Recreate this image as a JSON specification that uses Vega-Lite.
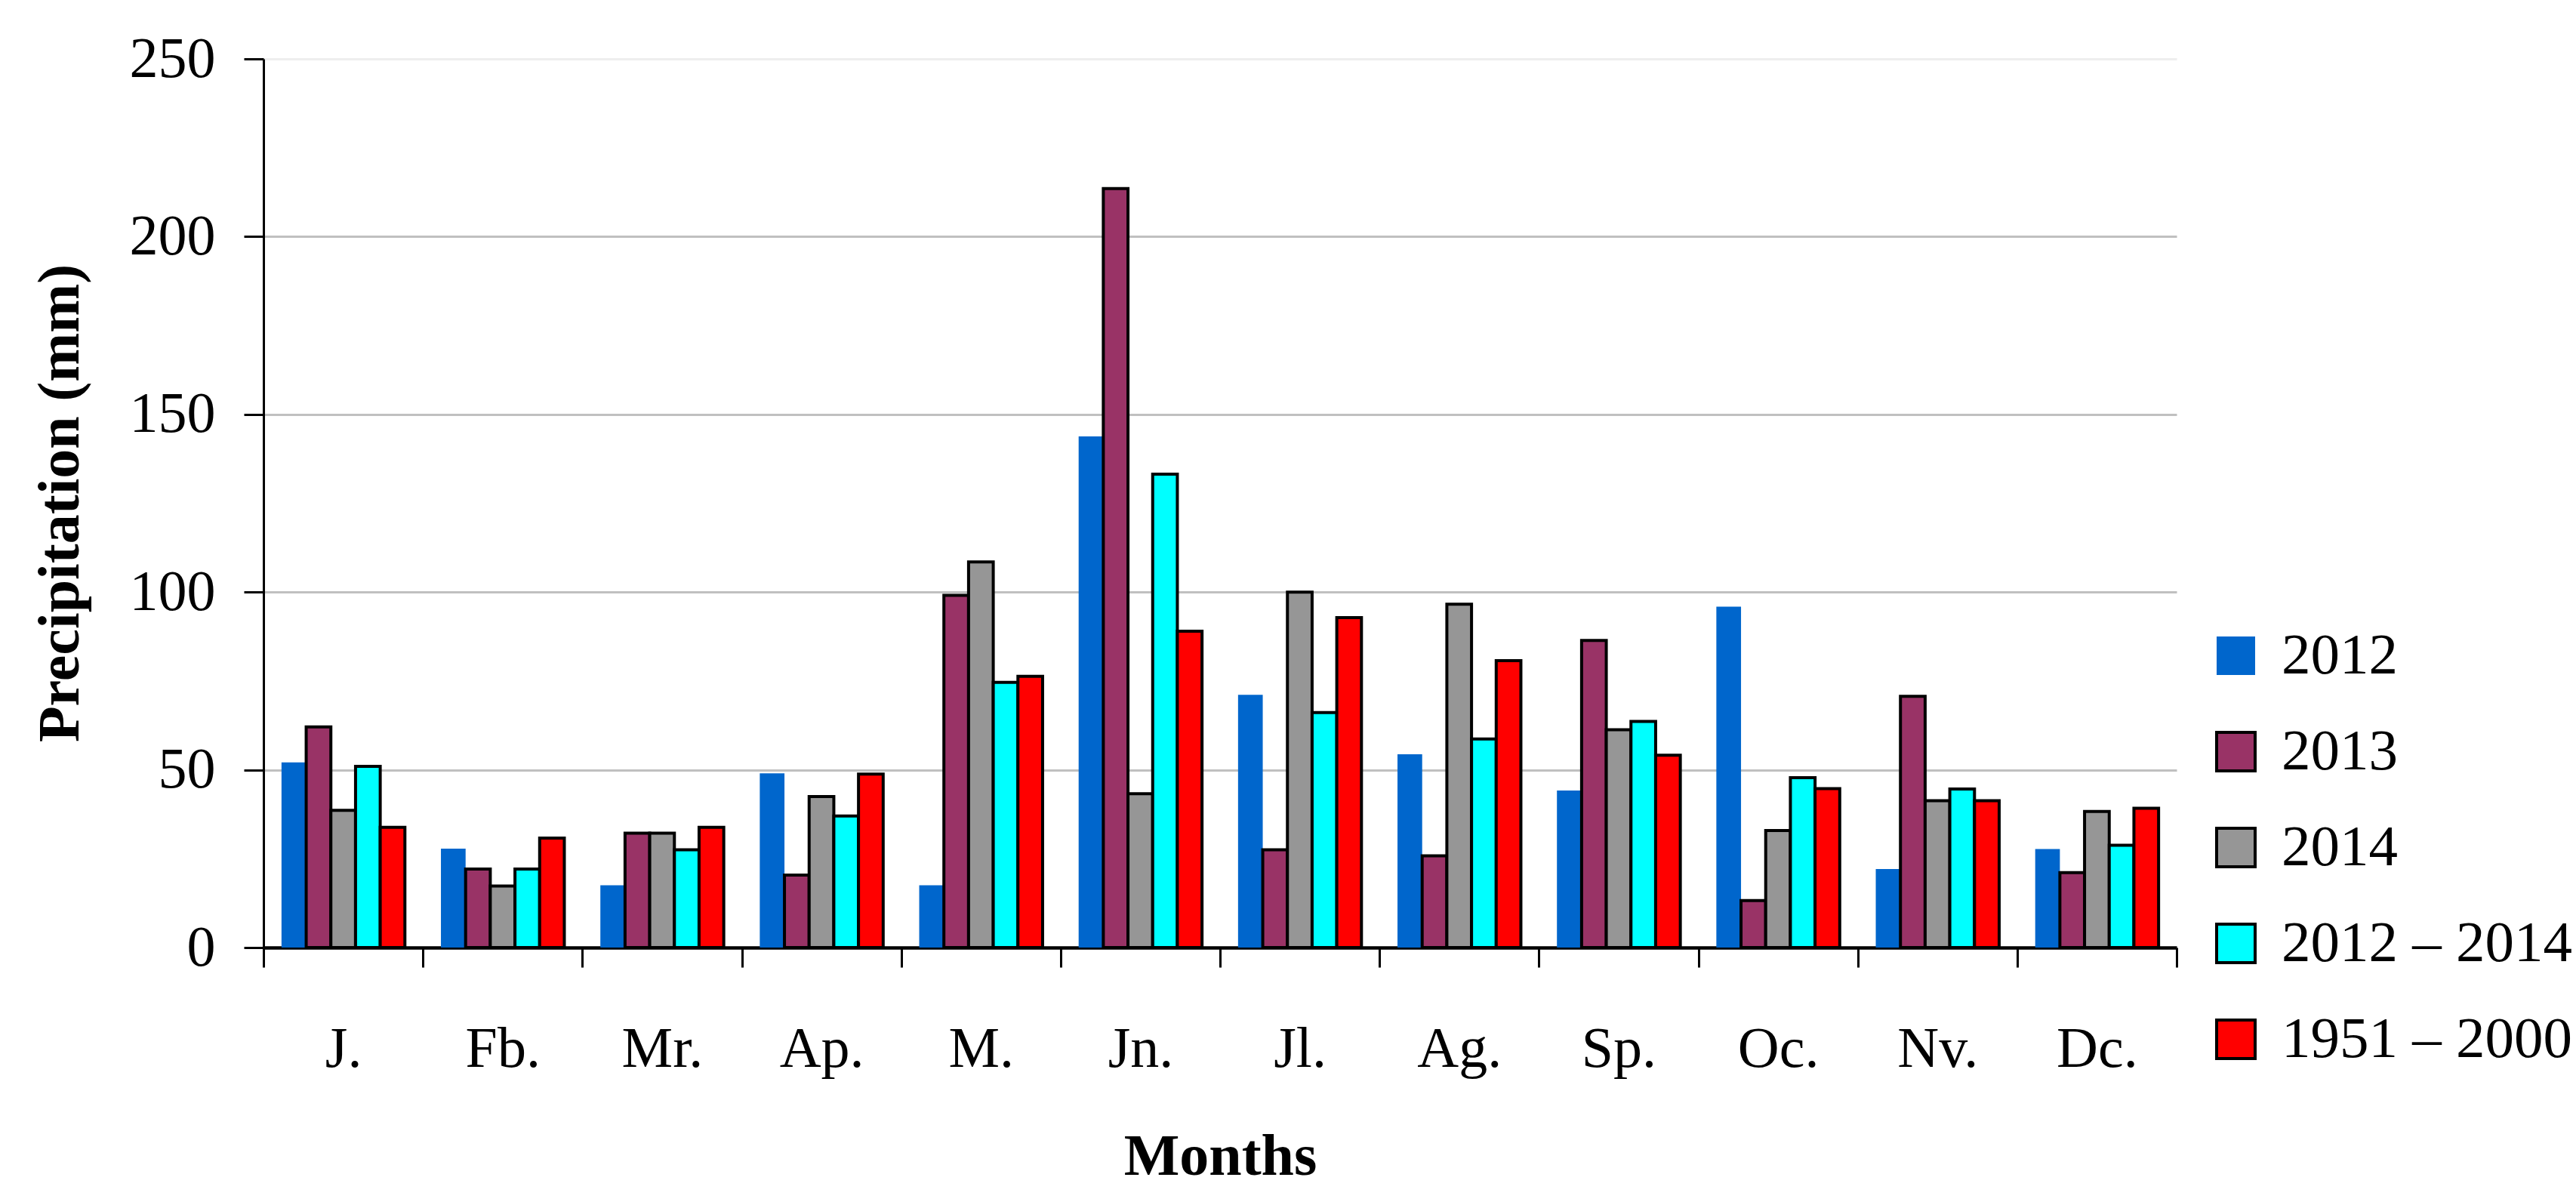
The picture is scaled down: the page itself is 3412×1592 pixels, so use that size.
{
  "$schema": "https://vega.github.io/schema/vega-lite/v6.json",
  "width": 2534,
  "height": 1177,
  "autosize": {"type": "none"},
  "padding": {"left": 349, "top": 78, "right": 529, "bottom": 337},
  "background": "white",
  "config": {
    "font": "Liberation Serif",
    "view": {"stroke": null},
    "axis": {"labelFont": "Liberation Serif", "titleFont": "Liberation Serif", "labelColor": "black", "titleColor": "black"},
    "legend": {"labelFont": "Liberation Serif"}
  },
  "data": {
    "values": [
      {"month": "J.", "series": "2012", "value": 52.1},
      {"month": "J.", "series": "2013", "value": 62.1},
      {"month": "J.", "series": "2014", "value": 38.6},
      {"month": "J.", "series": "2012 – 2014", "value": 51.0},
      {"month": "J.", "series": "1951 – 2000", "value": 33.8},
      {"month": "Fb.", "series": "2012", "value": 27.8},
      {"month": "Fb.", "series": "2013", "value": 22.1},
      {"month": "Fb.", "series": "2014", "value": 17.3},
      {"month": "Fb.", "series": "2012 – 2014", "value": 22.1},
      {"month": "Fb.", "series": "1951 – 2000", "value": 30.8},
      {"month": "Mr.", "series": "2012", "value": 17.5},
      {"month": "Mr.", "series": "2013", "value": 32.2},
      {"month": "Mr.", "series": "2014", "value": 32.2},
      {"month": "Mr.", "series": "2012 – 2014", "value": 27.5},
      {"month": "Mr.", "series": "1951 – 2000", "value": 33.8},
      {"month": "Ap.", "series": "2012", "value": 49.0},
      {"month": "Ap.", "series": "2013", "value": 20.4},
      {"month": "Ap.", "series": "2014", "value": 42.5},
      {"month": "Ap.", "series": "2012 – 2014", "value": 37.0},
      {"month": "Ap.", "series": "1951 – 2000", "value": 48.8},
      {"month": "M.", "series": "2012", "value": 17.5},
      {"month": "M.", "series": "2013", "value": 99.1},
      {"month": "M.", "series": "2014", "value": 108.5},
      {"month": "M.", "series": "2012 – 2014", "value": 74.6},
      {"month": "M.", "series": "1951 – 2000", "value": 76.3},
      {"month": "Jn.", "series": "2012", "value": 143.8},
      {"month": "Jn.", "series": "2013", "value": 213.5},
      {"month": "Jn.", "series": "2014", "value": 43.3},
      {"month": "Jn.", "series": "2012 – 2014", "value": 133.2},
      {"month": "Jn.", "series": "1951 – 2000", "value": 89.0},
      {"month": "Jl.", "series": "2012", "value": 71.1},
      {"month": "Jl.", "series": "2013", "value": 27.5},
      {"month": "Jl.", "series": "2014", "value": 100.0},
      {"month": "Jl.", "series": "2012 – 2014", "value": 66.1},
      {"month": "Jl.", "series": "1951 – 2000", "value": 92.8},
      {"month": "Ag.", "series": "2012", "value": 54.4},
      {"month": "Ag.", "series": "2013", "value": 25.8},
      {"month": "Ag.", "series": "2014", "value": 96.6},
      {"month": "Ag.", "series": "2012 – 2014", "value": 58.7},
      {"month": "Ag.", "series": "1951 – 2000", "value": 80.7},
      {"month": "Sp.", "series": "2012", "value": 44.2},
      {"month": "Sp.", "series": "2013", "value": 86.4},
      {"month": "Sp.", "series": "2014", "value": 61.3},
      {"month": "Sp.", "series": "2012 – 2014", "value": 63.6},
      {"month": "Sp.", "series": "1951 – 2000", "value": 54.1},
      {"month": "Oc.", "series": "2012", "value": 95.9},
      {"month": "Oc.", "series": "2013", "value": 13.2},
      {"month": "Oc.", "series": "2014", "value": 32.9},
      {"month": "Oc.", "series": "2012 – 2014", "value": 47.8},
      {"month": "Oc.", "series": "1951 – 2000", "value": 44.7},
      {"month": "Nv.", "series": "2012", "value": 22.1},
      {"month": "Nv.", "series": "2013", "value": 70.7},
      {"month": "Nv.", "series": "2014", "value": 41.3},
      {"month": "Nv.", "series": "2012 – 2014", "value": 44.6},
      {"month": "Nv.", "series": "1951 – 2000", "value": 41.3},
      {"month": "Dc.", "series": "2012", "value": 27.7},
      {"month": "Dc.", "series": "2013", "value": 21.1},
      {"month": "Dc.", "series": "2014", "value": 38.3},
      {"month": "Dc.", "series": "2012 – 2014", "value": 28.8},
      {"month": "Dc.", "series": "1951 – 2000", "value": 39.2}
    ]
  },
  "mark": {"type": "bar", "stroke": "black"},
  "encoding": {
    "x": {
      "field": "month",
      "type": "nominal",
      "sort": ["J.", "Fb.", "Mr.", "Ap.", "M.", "Jn.", "Jl.", "Ag.", "Sp.", "Oc.", "Nv.", "Dc."],
      "scale": {"paddingInner": 0, "paddingOuter": 0},
      "axis": {
        "title": "Months",
        "labelAngle": 0,
        "labelFontSize": 76,
        "labelPadding": 71,
        "labelBaseline": "top",
        "tickBand": "extent",
        "tickSize": 26,
        "tickWidth": 3,
        "tickColor": "black",
        "domainColor": "black",
        "domainWidth": 4.5,
        "titleFontSize": 78,
        "titleFontWeight": "bold",
        "titleBaseline": "alphabetic",
        "titleY": 300,
        "titleX": 1267
      }
    },
    "xOffset": {
      "field": "series",
      "sort": ["2012", "2013", "2014", "2012 – 2014", "1951 – 2000"],
      "scale": {"paddingInner": 0, "paddingOuter": 0.73}
    },
    "y": {
      "field": "value",
      "type": "quantitative",
      "scale": {"domain": [0, 250], "nice": false},
      "axis": {
        "title": "Precipitation (mm)",
        "values": [0, 50, 100, 150, 200, 250],
        "labelFontSize": 76,
        "labelPadding": 38,
        "tickSize": 26,
        "tickWidth": 3,
        "tickColor": "black",
        "domainColor": "black",
        "domainWidth": 3,
        "grid": true,
        "gridColor": {"condition": {"test": "datum.value == 250", "value": "#eeeeee"}, "value": "#c0c0c0"},
        "gridWidth": 3,
        "titleFontSize": 78,
        "titleFontWeight": "bold",
        "titleBaseline": "alphabetic",
        "titleAngle": -90,
        "titleX": -246,
        "titleY": 588
      }
    },
    "fill": {
      "field": "series",
      "type": "nominal",
      "sort": ["2012", "2013", "2014", "2012 – 2014", "1951 – 2000"],
      "scale": {
        "domain": ["2012", "2013", "2014", "2012 – 2014", "1951 – 2000"],
        "range": ["#0066CC", "#993366", "#969696", "#00FFFF", "#FF0000"]
      },
      "legend": {
        "title": null,
        "orient": "none",
        "legendX": 2574,
        "legendY": 752,
        "padding": 0,
        "symbolType": "square",
        "symbolSize": 2600,
        "symbolOffset": 0,
        "symbolStrokeColor": "black",
        "symbolStrokeWidth": 4,
        "labelFontSize": 77,
        "labelColor": "black",
        "labelOffset": 22,
        "rowPadding": 49,
        "labelLimit": 600,
        "encode": {
          "symbols": {
            "update": {
              "stroke": {"value": "black"},
              "strokeWidth": {"signal": "datum.value === '2012' ? 0 : 4"}
            }
          }
        }
      }
    },
    "strokeWidth": {
      "condition": {"test": "datum.series === '2012'", "value": 0},
      "value": 4
    }
  }
}
